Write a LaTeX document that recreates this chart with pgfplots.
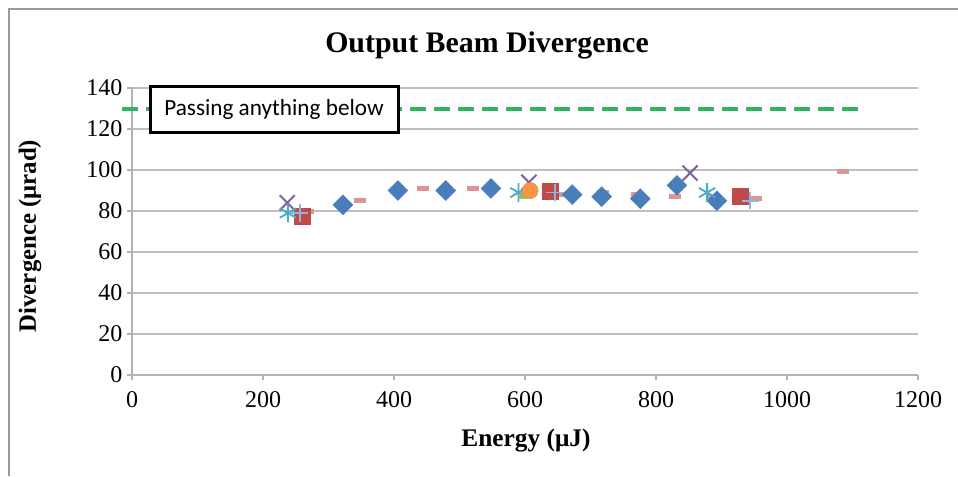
\documentclass[border=0pt]{standalone}
\usepackage{pgfplots}
\pgfplotsset{compat=1.18}
\usepackage{fontspec}
\setmainfont{Liberation Serif}
\newfontfamily\calibri{Carlito}
\definecolor{cblue}{HTML}{4A7EBB}
\definecolor{cred}{HTML}{BE4B48}
\definecolor{cpink}{HTML}{DA9694}
\definecolor{cpurple}{HTML}{7E649E}
\definecolor{ccyan}{HTML}{4BACC6}
\definecolor{clblue}{HTML}{8EB4E3}
\definecolor{corange}{HTML}{F79646}
\definecolor{cgreen}{HTML}{9BBB59}
\definecolor{lgreen}{HTML}{2EB35E}
\begin{document}
\begin{tikzpicture}[x=0.75pt,y=0.75pt]
\useasboundingbox (0,0) rectangle (958,-476);
\draw[black!40, line width=1.5pt] (8.5,-476) -- (8.5,-8.5) -- (958,-8.5);
\begin{axis}[at={(99pt,-281.25pt)}, anchor=south west, scale only axis,
  width=589.5pt, height=215.25pt,
  xmin=0, xmax=1200, ymin=0, ymax=140,
  xtick={0,200,...,1200}, ytick={0,20,...,140},
  axis x line*=bottom, axis y line*=left,
  axis line style={draw=black!30, line width=1pt, -},
  ymajorgrids, grid style={black!25, line width=1.2pt},
  tick style={black!30, line width=1pt}, tick align=outside, major tick length=3.75pt,
  ticklabel style={font=\fontsize{18}{19}\selectfont},
  xticklabel style={yshift=-5pt},
  /pgf/number format/assume math mode=true,
  /pgf/number format/1000 sep={},
  clip=false]
\addplot[draw=lgreen, dash pattern=on 12pt off 6pt, line width=3pt] coordinates {(-15,130) (1110,130)};
% pink dashes
\addplot[only marks, mark=-, mark size=4.5pt, mark options={draw=cpink, line width=3.75pt}] coordinates {
(269,80) (348,85) (444,91) (521,91) (660,88) (719,89) (771,88) (829,87) (885,87) (953,86) (1086,99.5) (640,90)};
% blue diamonds
\addplot[only marks, mark=square*, mark size=5.25pt, mark options={rotate=45, fill=cblue, draw=cblue}] coordinates {
(322,83) (406,90) (479,90) (548,91) (672,88) (717,87) (776,86) (832,92.5) (893,85)};
% red squares
\addplot[only marks, mark=square*, mark size=6pt, mark options={fill=cred, draw=cred}] coordinates {
(260,77.5) (638,89.5) (928,87)};
% purple x
\addplot[only marks, mark=x, mark size=8pt, mark options={draw=cpurple, line width=1.5pt}] coordinates {
(237,84) (606,94) (852,98.5)};
% cyan asterisk
\addplot[only marks, mark=asterisk, mark size=7pt, mark options={draw=ccyan, line width=1.4pt}] coordinates {
(238,79) (590,89) (878,89)};
% green triangle
\addplot[only marks, mark=triangle*, mark size=6pt, mark options={fill=cgreen, draw=cgreen}] coordinates {(600,88)};
% orange circle
\addplot[only marks, mark=*, mark size=6pt, mark options={fill=corange, draw=corange}] coordinates {(608,90)};
% light blue plus
\addplot[only marks, mark=+, mark size=6.5pt, mark options={draw=clblue, line width=1.4pt}] coordinates {
(256,79) (646,89) (944,85)};
\end{axis}
\node[font=\bfseries\fontsize{22.4}{24}\selectfont] at (487,-45) {Output Beam Divergence};
\node[rotate=90, font=\bfseries\fontsize{18.6}{20}\selectfont] at (30,-236) {Divergence (μrad)};
\node[font=\bfseries\fontsize{19}{20}\selectfont] at (526,-440) {Energy (μJ)};
\node[draw=black, line width=2.25pt, fill=white, font=\calibri\fontsize{17.4}{19}\selectfont, minimum width=186pt, minimum height=34.5pt, inner sep=0pt] at (274,-109) {Passing anything below};
\end{tikzpicture}
\end{document}
